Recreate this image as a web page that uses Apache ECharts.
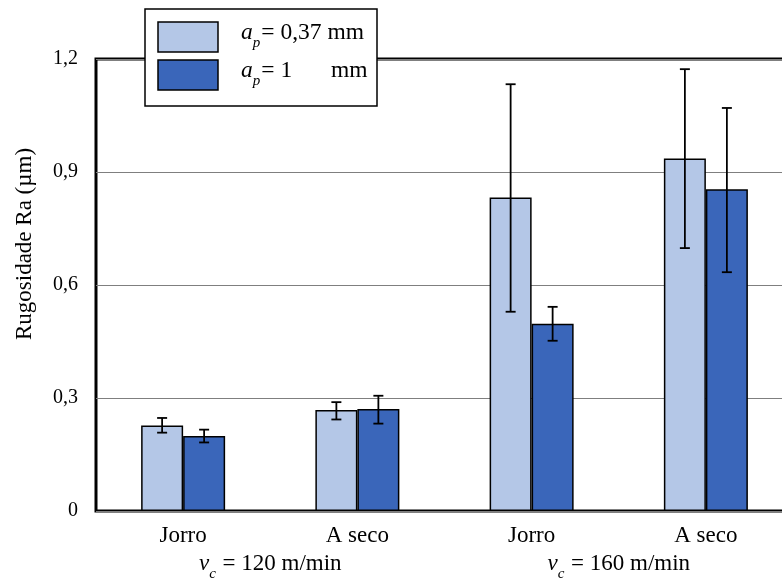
<!DOCTYPE html>
<html><head><meta charset="utf-8">
<script src="https://cdn.jsdelivr.net/npm/echarts@6/dist/echarts.min.js"></script>
<style>html,body{margin:0;padding:0;background:#fff}#c{width:782px;height:581px}</style>
</head><body><div id="c"></div>
<script>
var categories = ['Jorro', 'A seco', 'Jorro', 'A seco'];
var groups = ['120', '160'];
var yTicks = [0, 0.3, 0.6, 0.9, 1.2];
var light = [0.227, 0.268, 0.832, 0.936];
var dark = [0.199, 0.271, 0.497, 0.854];
var lightLow = [0.208, 0.243, 0.529, 0.698];
var lightHigh = [0.247, 0.289, 1.133, 1.173];
var darkLow = [0.182, 0.232, 0.452, 0.634];
var darkHigh = [0.216, 0.306, 0.542, 1.070];

var FONT = '"Liberation Serif", "Times New Roman", serif';
var LIGHT = '#B4C7E7', DARK = '#3A66BA';

function errData(lo, hi) { return lo.map(function (v, i) { return [i, v, hi[i]]; }); }
function errRender(off) {
  return function (params, api) {
    var x = api.value(0);
    var lo = api.coord([x, api.value(1)]);
    var hi = api.coord([x, api.value(2)]);
    var cx = lo[0] + off, cap = 5;
    var st = { stroke: '#000', lineWidth: 1.8 };
    return { type: 'group', children: [
      { type: 'line', shape: { x1: cx, y1: lo[1], x2: cx, y2: hi[1] }, style: st },
      { type: 'line', shape: { x1: cx - cap, y1: lo[1], x2: cx + cap, y2: lo[1] }, style: st },
      { type: 'line', shape: { x1: cx - cap, y1: hi[1], x2: cx + cap, y2: hi[1] }, style: st }
    ]};
  };
}
function subRich(size) {
  return {
    a: { fontFamily: FONT, fontStyle: 'italic', fontSize: size, color: '#000' },
    p: { fontFamily: FONT, fontStyle: 'italic', fontSize: 15, color: '#000', padding: [21, 1, 0, 0] },
    t: { fontFamily: FONT, fontSize: size, color: '#000' }
  };
}

var chart = echarts.init(document.getElementById('c'));
chart.setOption({
  animation: false,
  backgroundColor: '#fff',
  grid: { left: 96, top: 59, width: 697, bottom: 70, outerBoundsMode: 'none', containLabel: false,
    show: true, borderColor: '#000', borderWidth: 3, backgroundColor: 'transparent' },
  xAxis: [{
    type: 'category', data: categories, position: 'bottom',
    axisLine: { show: false }, axisTick: { show: false },
    axisLabel: { fontFamily: FONT, fontSize: 23, color: '#000', margin: 13 }
  }, {
    type: 'category', data: groups, position: 'bottom', offset: 22,
    axisLine: { show: false }, axisTick: { show: false },
    axisLabel: {
      margin: 13,
      formatter: function (v) { return '{a|v}{p|c}{t| = ' + v + ' m/min}'; },
      rich: subRich(23)
    }
  }],
  yAxis: {
    type: 'value', min: yTicks[0], max: yTicks[yTicks.length - 1], interval: 0.3,
    axisLine: { show: false }, axisTick: { show: false },
    axisLabel: { fontFamily: FONT, fontSize: 20, color: '#000', margin: 18,
      formatter: function (v) { return v === 0 ? '0' : v.toFixed(1).replace('.', ','); } },
    splitLine: { show: true, lineStyle: { color: '#7f7f7f', width: 1.2 } }
  },
  series: [
    { type: 'bar', data: light, barWidth: 42, barGap: '0%', itemStyle: { color: LIGHT, borderColor: '#000', borderWidth: 1.5 } },
    { type: 'bar', data: dark, barWidth: 42, barGap: '0%', itemStyle: { color: DARK, borderColor: '#000', borderWidth: 1.5 } },
    { type: 'custom', data: errData(lightLow, lightHigh), renderItem: errRender(-21), z: 5 },
    { type: 'custom', data: errData(darkLow, darkHigh), renderItem: errRender(21), z: 5 }
  ],
  graphic: [
    { type: 'text', x: 25, y: 244, rotation: Math.PI / 2,
      style: { text: 'Rugosidade Ra (µm)', fontFamily: FONT, fontSize: 23, fill: '#000', align: 'center', verticalAlign: 'middle' } },
    { type: 'rect', z: 100, shape: { x: 145, y: 9, width: 232, height: 97 }, style: { fill: '#fff', stroke: '#000', lineWidth: 1.5 } },
    { type: 'rect', z: 101, shape: { x: 158, y: 22, width: 60, height: 30 }, style: { fill: LIGHT, stroke: '#000', lineWidth: 1.5 } },
    { type: 'rect', z: 101, shape: { x: 158, y: 60, width: 60, height: 30 }, style: { fill: DARK, stroke: '#000', lineWidth: 1.5 } },
    { type: 'text', z: 101, x: 241, y: 33, style: { text: '{a|a}{p|p}{t|= 0,37 mm}', rich: subRich(23.5), verticalAlign: 'middle' } },
    { type: 'text', z: 101, x: 241, y: 71, style: { text: '{a|a}{p|p}{t|= 1}', rich: subRich(23.5), verticalAlign: 'middle' } },
    { type: 'text', z: 101, x: 331, y: 71, style: { text: 'mm', fontFamily: FONT, fontSize: 23.5, fill: '#000', verticalAlign: 'middle' } }
  ]
});
</script></body></html>
